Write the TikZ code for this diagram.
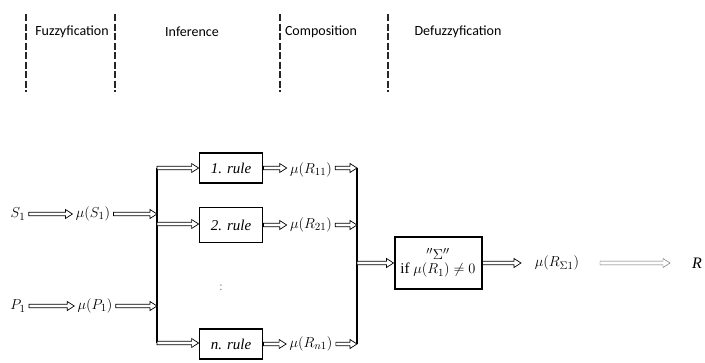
\documentclass[tikz,border=0pt]{standalone}
\usepackage{fontspec}
\setmainfont{Liberation Serif}
\newfontfamily\hdrfont{Carlito}
\usetikzlibrary{calc}
\tikzset{harrowline/.style={draw=black, line width=0.7pt, line join=miter, fill=white}}
\newcommand\harr[3][]{\path[harrowline,#1] let \p1=#2, \p2=#3 in
  (\x1,\y1-1.8pt) -- (\x2-7pt,\y1-1.8pt) -- (\x2-7pt,\y1-4.5pt) -- (\x2,\y1)
  -- (\x2-7pt,\y1+4.5pt) -- (\x2-7pt,\y1+1.8pt) -- (\x1,\y1+1.8pt) -- cycle;}
\begin{document}
\begin{tikzpicture}[x=1pt,y=-1pt,
  hdr/.style={font=\hdrfont\fontsize{14}{16}\selectfont, inner sep=0pt},
  sep/.style={line width=1.3pt, dash pattern=on 7pt off 2.5pt, black!85},
  lbl/.style={font=\fontsize{15}{17}\selectfont, inner sep=1pt, outer sep=2.5pt},
  rulebox/.style={draw, line width=1.8pt, minimum width=63pt, inner sep=0pt, font=\itshape\fontsize{15}{17}\selectfont},
  bus/.style={line width=1.5pt}
]
\useasboundingbox (0,0) rectangle (705,362);
% header
\node[hdr] (h1) at (72,32) {Fuzzyfication};
\node[hdr] (h2) at (192,32) {Inference};
\node[hdr] (h3) at (321,32) {Composition};
\node[hdr] (h4) at (458,32) {Defuzzyfication};
\coordinate (d1t) at (26,14);  \coordinate (d1b) at (26,92);
\coordinate (d2t) at (115,14); \coordinate (d2b) at (115,92);
\coordinate (d3t) at (280,14); \coordinate (d3b) at (280,92);
\coordinate (d4t) at (388,14); \coordinate (d4b) at (388,92);
\draw[sep] (d1t) -- (d1b);
\draw[sep] (d2t) -- (d2b);
\draw[sep] (d3t) -- (d3b);
\draw[sep] (d4t) -- (d4b);
% inputs
\node[lbl] (S1) at (18,214) {$S_1$};
\node[lbl] (muS) at (93,214) {$\mu(S_1)$};
\node[lbl] (P1) at (18,306) {$P_1$};
\node[lbl] (muP) at (95,306) {$\mu(P_1)$};
% left bus
\coordinate (blt) at (157,168);
\coordinate (bls) at (157,214);
\coordinate (bl2) at (157,224);
\coordinate (blp) at (157,306);
\coordinate (bln) at (157,343);
\draw[bus] (blt) -- (bln);
% rules
\node[rulebox, minimum height=30pt] (r1) at (231,168) {1. rule};
\node[rulebox, minimum height=35pt] (r2) at (231,225) {2. rule};
\node[rulebox, minimum height=30pt] (rn) at (231,344) {n. rule};
\node[text=black!55, font=\fontsize{12}{13}\selectfont, inner sep=1pt] (vd) at (221,288) {:};
% rule outputs
\node[lbl] (m1) at (311,170) {$\mu(R_{11})$};
\node[lbl] (m2) at (311,225) {$\mu(R_{21})$};
\node[lbl] (mn) at (311,344) {$\mu(R_{n1})$};
% right bus
\coordinate (brt) at (357,168);
\coordinate (br2) at (357,225);
\coordinate (brc) at (357,263);
\coordinate (brn) at (357,344);
\draw[bus] (brt) -- (brn);
% composition
\node[draw, line width=2pt, minimum width=87pt, minimum height=52pt, align=center, inner sep=0pt,
      font=\fontsize{15}{15}\selectfont] (comp) at (438,263)
      {${}^{\prime\prime}\Sigma^{\prime\prime}$\\[-1pt] if $\mu(R_1)\neq 0$};
\node[lbl] (mS) at (557,263) {$\mu(R_{\Sigma 1})$};
\node[lbl, font=\itshape\fontsize{16}{18}\selectfont] (R) at (697,263) {R};
\coordinate (ae) at (521,263);
\coordinate (rs) at (600,263);
\coordinate (re) at (670,263);
% arrows
\harr{(S1.east)}{(muS.west)}
\harr{(muS.east)}{(bls)}
\harr{(P1.east)}{(muP.west)}
\harr{(muP.east)}{(blp)}
\harr{(blt)}{(r1.west)}
\harr{(bl2)}{(bl2 -| r2.west)}
\harr{(bln)}{(bln -| rn.west)}
\harr{(r1.east)}{(m1.west)}
\harr{(r2.east)}{(m2.west)}
\harr{(rn.east)}{(mn.west)}
\harr{(m1.east |- brt)}{(brt)}
\harr{(m2.east)}{(br2)}
\harr{(mn.east)}{(brn)}
\harr{(brc)}{(comp.west)}
\harr{(comp.east)}{(ae)}
\harr[draw=black!60, line width=0.45pt]{(rs)}{(re)}
\end{tikzpicture}
\end{document}
